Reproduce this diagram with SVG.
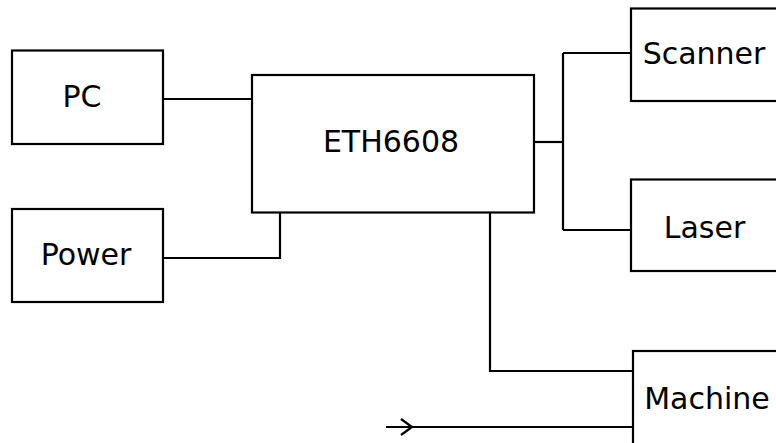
<svg xmlns="http://www.w3.org/2000/svg" width="776" height="443" viewBox="0 0 776 443">
<style>
.box{fill:#fff;stroke:#000;stroke-width:2.2}
.ln{fill:none;stroke:#000;stroke-width:2.2}
text{font-family:"DejaVu Sans",sans-serif;font-size:30px;fill:#000;text-anchor:middle}
</style>
<rect width="776" height="443" fill="#fff"/>
<g id="connectors">
<path class="ln" d="M163 99H252"/>
<path class="ln" d="M163 258H280V212"/>
<path class="ln" d="M534 142H563"/>
<path class="ln" d="M563 53V230"/>
<path class="ln" d="M563 53H631"/>
<path class="ln" d="M563 230H631"/>
<path class="ln" d="M490 212V371H633"/>
<path class="ln" d="M386 427H633"/>
<path class="ln" d="M401 419L412 427L401 435"/>
</g>
<g id="pc"><rect class="box" x="12" y="50.5" width="151" height="93.5"/><text x="82" y="107">PC</text></g>
<g id="power"><rect class="box" x="12" y="209" width="151" height="93"/><text x="86" y="265">Power</text></g>
<g id="eth6608"><rect class="box" x="252" y="75" width="282" height="137.5"/><text x="391" y="151.5">ETH6608</text></g>
<g id="scanner"><rect class="box" x="631" y="8.5" width="160" height="92.5"/><text x="704" y="64">Scanner</text></g>
<g id="laser"><rect class="box" x="631" y="179.5" width="160" height="91.5"/><text x="704.5" y="238">Laser</text></g>
<g id="machine"><rect class="box" x="633" y="351" width="160" height="110"/><text x="707" y="409">Machine</text></g>
</svg>
